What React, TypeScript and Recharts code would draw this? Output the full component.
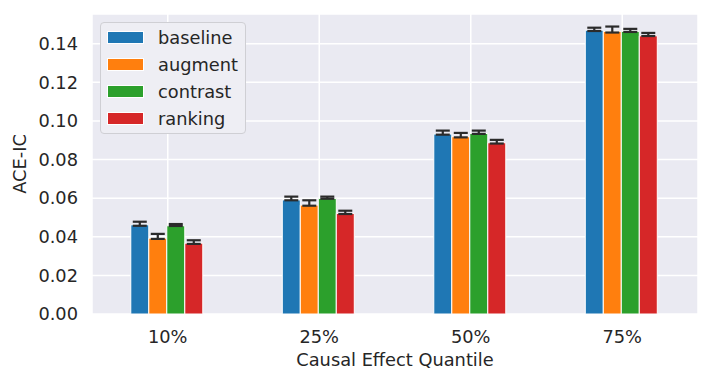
import { BarChart, Bar, XAxis, YAxis, CartesianGrid, Legend, ErrorBar, Label } from "recharts";

const quantiles = ["10%", "25%", "50%", "75%"];
const baseline = [0.0462, 0.0591, 0.0932, 0.147];
const augment = [0.0393, 0.0564, 0.0918, 0.1464];
const contrast = [0.0457, 0.0598, 0.0935, 0.1464];
const ranking = [0.0367, 0.0521, 0.0887, 0.1441];
// [below, above] error extents
const baselineErr = [[0.0005, 0.0016], [0.0002, 0.0017], [0.0003, 0.0018], [0.0004, 0.0013]];
const augmentErr = [[0.0004, 0.0022], [0.0003, 0.0025], [0.0003, 0.002], [0.0006, 0.0025]];
const contrastErr = [[0.0001, 0.0009], [0.0001, 0.001], [0.0002, 0.0015], [0.0003, 0.0013]];
const rankingErr = [[0.0004, 0.0015], [0.0003, 0.0014], [0.0004, 0.0015], [0.0001, 0.0015]];
const yTicks = [0, 0.02, 0.04, 0.06, 0.08, 0.1, 0.12, 0.14];

const series = [
  { key: "baseline", color: "#1f77b4" },
  { key: "augment", color: "#ff7f0e" },
  { key: "contrast", color: "#2ca02c" },
  { key: "ranking", color: "#d62728" },
];

const data = quantiles.map((q, i) => ({
  q,
  baseline: baseline[i],
  augment: augment[i],
  contrast: contrast[i],
  ranking: ranking[i],
  baselineErr: baselineErr[i],
  augmentErr: augmentErr[i],
  contrastErr: contrastErr[i],
  rankingErr: rankingErr[i],
}));

const font = "'DejaVu Sans', sans-serif";
const textColor = "#262626";
const fs = 17.8;

function LegendBox() {
  return (
    <div
      style={{
        border: "1px solid #cfcfd4",
        borderRadius: 4,
        background: "#eeeef4",
        padding: "1px 7px 1px 6px",
        fontFamily: font,
        fontSize: fs,
        color: textColor,
      }}
    >
      {series.map((s) => (
        <div key={s.key} style={{ display: "flex", alignItems: "center", height: 27 }}>
          <div style={{ width: 35, height: 11, background: s.color, border: "1px solid #fff", marginRight: 14 }} />
          <span>{s.key}</span>
        </div>
      ))}
    </div>
  );
}

export default function App() {
  return (
    <div style={{ position: "absolute", left: 0, top: 0 }}>
      <BarChart
        width={712}
        height={383}
        data={data}
        margin={{ top: 14, right: 14, left: 0, bottom: 0 }}
        barCategoryGap="25.6%"
        barGap={0}
      >
        <CartesianGrid fill="#eaeaf2" stroke="#ffffff" strokeWidth={1.5} />
        <XAxis
          dataKey="q"
          height={69}
          axisLine={false}
          tickLine={false}
          tickSize={6}
          tickMargin={10}
          tick={{ fill: textColor, fontSize: fs, fontFamily: font }}
        >
          <Label
            value="Causal Effect Quantile"
            position="insideBottom"
            offset={17}
            style={{ fill: textColor, fontSize: fs, fontFamily: font }}
          />
        </XAxis>
        <YAxis
          width={92}
          domain={[0, 0.1554]}
          ticks={yTicks}
          axisLine={false}
          tickLine={false}
          tickSize={6}
          tickMargin={8}
          tickFormatter={(v: number) => v.toFixed(2)}
          tick={{ fill: textColor, fontSize: fs, fontFamily: font }}
        >
          <Label
            value="ACE-IC"
            angle={-90}
            position="insideLeft"
            offset={20}
            style={{ fill: textColor, fontSize: fs, fontFamily: font, textAnchor: "middle" }}
          />
        </YAxis>
        <Legend
          layout="vertical"
          align="center"
          verticalAlign="middle"
          wrapperStyle={{ left: 100, top: 22, width: "auto" }}
          content={() => <LegendBox />}
        />
        {series.map((s) => (
          <Bar key={s.key} dataKey={s.key} fill={s.color} stroke="#ffffff" strokeWidth={1} isAnimationActive={false}>
            <ErrorBar dataKey={s.key + "Err"} width={7} stroke="#2b2b2b" strokeWidth={2.2} direction="y" />
          </Bar>
        ))}
      </BarChart>
    </div>
  );
}
